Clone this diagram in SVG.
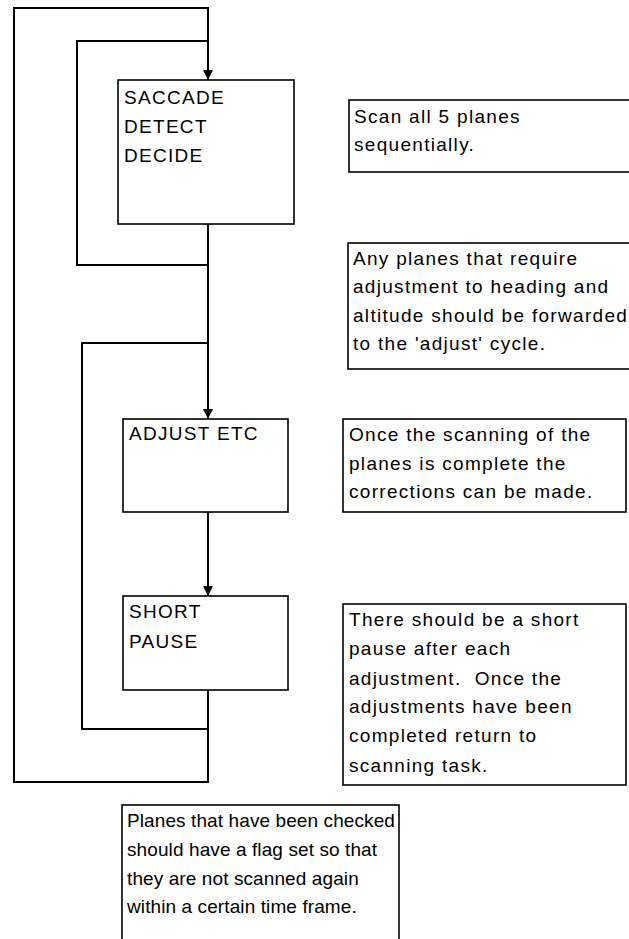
<svg xmlns="http://www.w3.org/2000/svg" width="629" height="939" viewBox="0 0 629 939">
<style>
.box{fill:#fff;stroke:#000;stroke-width:1.6}
.note{fill:#fff;stroke:#000;stroke-width:1.6}
.con{fill:none;stroke:#000;stroke-width:2}
text{font-family:"Liberation Sans",Arial,sans-serif;font-size:19px;letter-spacing:1.3px;fill:#000;white-space:pre}
.tight{letter-spacing:0.1px}
</style>
<defs>
<marker id="arr" markerWidth="10" markerHeight="12" refX="10" refY="5" orient="auto" markerUnits="userSpaceOnUse" viewBox="0 0 10 10">
<path d="M0,0 L10,5 L0,10 Z" fill="#000"/>
</marker>
</defs>
<rect width="629" height="939" fill="#fff"/>
<g id="connectors">
<path class="con" d="M208,690 V782 H14 V8 H208 V80" marker-end="url(#arr)"/>
<path class="con" d="M208,265 H77 V41 H208"/>
<path class="con" d="M208,224 V419" marker-end="url(#arr)"/>
<path class="con" d="M208,729 H82 V343 H208"/>
<path class="con" d="M208,512 V596" marker-end="url(#arr)"/>
</g>
<g id="saccade">
<rect class="box" x="118" y="80" width="176" height="144"/>
<text x="124" y="104">SACCADE</text>
<text x="124" y="133">DETECT</text>
<text x="124" y="162">DECIDE</text>
</g>
<g id="adjust">
<rect class="box" x="123" y="419" width="165" height="93"/>
<text x="129" y="440">ADJUST ETC</text>
</g>
<g id="pause">
<rect class="box" x="123" y="596" width="165" height="94"/>
<text x="129" y="618">SHORT</text>
<text x="129" y="648">PAUSE</text>
</g>
<g id="note-scan">
<rect class="note" x="349" y="100" width="300" height="72"/>
<text x="354" y="123">Scan all 5 planes</text>
<text x="354" y="151">sequentially.</text>
</g>
<g id="note-any">
<rect class="note" x="348" y="243" width="300" height="126"/>
<text x="353" y="265">Any planes that require</text>
<text x="353" y="293">adjustment to heading and</text>
<text x="353" y="322">altitude should be forwarded</text>
<text x="353" y="350">to the 'adjust' cycle.</text>
</g>
<g id="note-once">
<rect class="note" x="343" y="419" width="283" height="93"/>
<text x="349" y="441">Once the scanning of the</text>
<text x="349" y="470">planes is complete the</text>
<text x="349" y="498">corrections can be made.</text>
</g>
<g id="note-pause">
<rect class="note" x="343" y="604" width="283" height="181"/>
<text x="349" y="626">There should be a short</text>
<text x="349" y="655">pause after each</text>
<text x="349" y="685">adjustment.  Once the</text>
<text x="349" y="713">adjustments have been</text>
<text x="349" y="742">completed return to</text>
<text x="349" y="772">scanning task.</text>
</g>
<g id="note-planes">
<rect class="note" x="122" y="805" width="277" height="150"/>
<text class="tight" x="127" y="827">Planes that have been checked</text>
<text class="tight" x="127" y="856">should have a flag set so that</text>
<text class="tight" x="127" y="885">they are not scanned again</text>
<text class="tight" x="127" y="913">within a certain time frame.</text>
</g>
</svg>
